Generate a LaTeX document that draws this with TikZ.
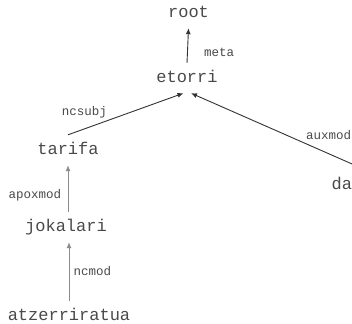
\documentclass[tikz,border=0pt]{standalone}
\usepackage{fontspec}
\setmonofont{Liberation Mono}
\usetikzlibrary{arrows.meta}
\definecolor{ink}{HTML}{4A4A4A}
\definecolor{darkedge}{HTML}{333333}
\definecolor{lightedge}{HTML}{8C8C8C}
\tikzset{
  word/.style={inner xsep=0pt, inner ysep=10.5pt, text height=9pt, text depth=0pt,
    font=\ttfamily\fontsize{17}{17}\selectfont, text=ink},
  rel/.style={inner sep=0pt, font=\ttfamily\fontsize{12.5}{12.5}\selectfont, text=ink},
  dep/.style={draw=darkedge, line width=0.9pt, -{Latex[length=6pt,width=5pt]}},
  deplight/.style={dep, draw=lightedge},
}
\begin{document}
\begin{tikzpicture}[x=1pt,y=-1pt]
\useasboundingbox[fill=white] (0,0) rectangle (352,323);
% words of the sentence
\node[word] (root) at (188.5,13) {root};
\node[word] (etorri) at (187,78) {etorri};
\node[word] (tarifa) at (68,150) {tarifa};
\node[word, anchor=west] (da) at (331.5,185) {da};
\node[word] (jokalari) at (66,227) {jokalari};
\node[word] (atzerriratua) at (69,316) {atzerriratua};
% dependency arcs, dependent to head
\draw[dep] (etorri.north) -- (root.south);
\draw[dep] (tarifa.north) -- ([xshift=-3.5pt]etorri.south);
\draw[dep] ([xshift=13pt]da.north east) -- ([xshift=4pt]etorri.south);
\draw[deplight] (jokalari.north -| tarifa) -- (tarifa.south);
\draw[deplight] (atzerriratua.north) -- (jokalari.south -| atzerriratua);
% relation labels
\node[rel] (lmeta) at (219,52) {meta};
\node[rel] (lncsubj) at (84.5,112) {ncsubj};
\node[rel] (lauxmod) at (328.5,135) {auxmod};
\node[rel] (lapoxmod) at (35,195) {apoxmod};
\node[rel] (lncmod) at (92.5,271) {ncmod};
\end{tikzpicture}
\end{document}
